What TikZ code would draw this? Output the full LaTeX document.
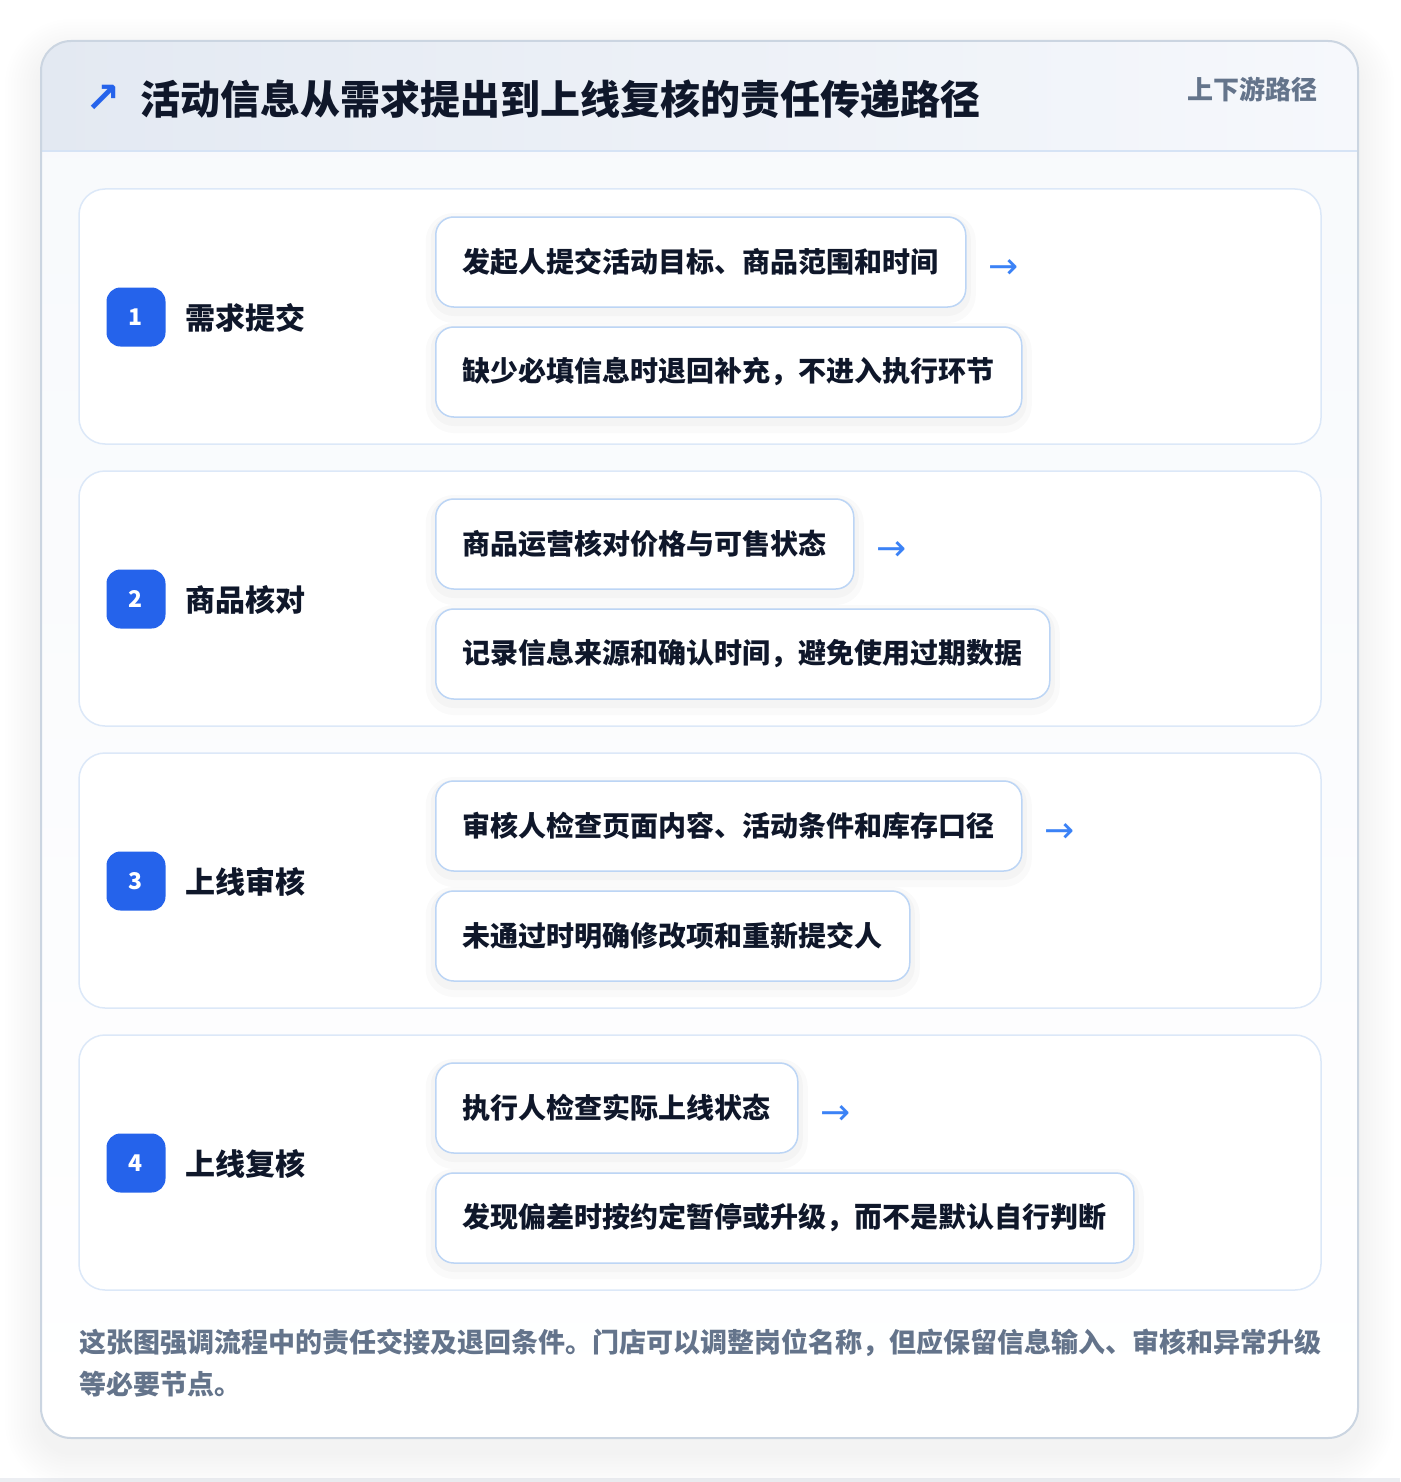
\documentclass[tikz,border=0pt]{standalone}
\usepackage{fontspec}
\setmainfont{Noto Sans CJK SC}
\newfontfamily\symbolfont{DejaVu Sans}
\usetikzlibrary{positioning}

\definecolor{inkdark}{HTML}{0F172A}
\definecolor{inkgrey}{HTML}{64748B}
\definecolor{badgeblue}{HTML}{2563EB}
\definecolor{arrowblue}{HTML}{3B82F6}
\definecolor{stepline}{HTML}{DCE8F8}
\definecolor{subline}{HTML}{BCD5F5}
\definecolor{cardline}{HTML}{CBD5E1}
\definecolor{cardtop}{HTML}{F7F9FC}
\definecolor{headleft}{HTML}{E3E9F2}
\definecolor{headright}{HTML}{F6F8FC}
\definecolor{headrule}{HTML}{D6E3F5}
\definecolor{pagefoot}{HTML}{ECEEF2}

\tikzset{
  stepcard/.style={draw=stepline, line width=1.5pt, fill=white, rounded corners=26pt,
    minimum width=1242pt, minimum height=255pt, inner sep=0pt},
  badge/.style={fill=badgeblue, rounded corners=14pt, minimum size=59pt, inner sep=0pt,
    text=white, font=\bfseries\fontsize{23}{23}\selectfont},
  steptitle/.style={anchor=west, inner sep=0pt, text=inkdark,
    font=\bfseries\fontsize{30}{30}\selectfont},
  substep/.style={anchor=west, draw=subline, line width=1.5pt, fill=white,
    rounded corners=18pt, minimum height=90pt, inner xsep=27pt, inner ysep=0pt,
    text=inkdark, font=\bfseries\fontsize{28}{28}\selectfont,
    preaction={draw=black, opacity=0.018, line width=20pt, transform canvas={yshift=-6pt}},
    preaction={draw=black, opacity=0.022, line width=10pt, transform canvas={yshift=-4pt}}},
  handoff/.style={anchor=west, inner sep=0pt, text=arrowblue,
    font=\symbolfont\fontsize{36}{36}\selectfont}
}

\begin{document}
\begin{tikzpicture}[x=1pt, y=-1pt]
  \useasboundingbox (0,0) rectangle (1400,1482);
  \fill[white] (0,0) rectangle (1400,1482);
  \fill[pagefoot] (0,1478) rectangle (1400,1482);

  % soft shadow under the card
  \foreach \k [evaluate=\k as \r using 30+3*\k] in {1,...,12}
    \fill[black, opacity=0.0045, rounded corners=\r pt]
      (41-3*\k,41-3*\k+14) rectangle (1358+3*\k,1438+3*\k+14);

  % card and header band
  \fill[top color=cardtop, bottom color=white, rounded corners=30pt] (41,41) rectangle (1358,1438);
  \begin{scope}
    \clip[rounded corners=30pt] (41,41) rectangle (1358,1438);
    \shade[left color=headleft, right color=headright] (41,41) rectangle (1358,151);
  \end{scope}
  \draw[headrule, line width=1.5pt] (41,151) -- (1358,151);
  \draw[cardline, line width=2pt, rounded corners=30pt] (41,41) rectangle (1358,1438);

  \node[anchor=west, inner sep=0pt, text=badgeblue, font=\symbolfont\bfseries\fontsize{42}{42}\selectfont] (icon) at (85,99) {↗};
  \node[anchor=west, inner sep=0pt, text=inkdark, font=\bfseries\fontsize{40}{40}\selectfont] (title) at (140,99) {活动信息从需求提出到上线复核的责任传递路径};
  \node[anchor=east, inner sep=0pt, text=inkgrey, font=\bfseries\fontsize{26}{26}\selectfont] (tag) at (1318,89) {上下游路径};

  % step 1
  \node[stepcard] (step1) at (700,316.5) {};
  \node[badge] (b1) at (136,317) {1};
  \node[steptitle] (t1) at (185,318) {需求提交};
  \node[substep] (s1a) at (435,262) {发起人提交活动目标、商品范围和时间};
  \node[substep] (s1b) at (435,372) {缺少必填信息时退回补充，不进入执行环节};
  \node[handoff, right=22pt of s1a, yshift=-7pt] (h1) {→};

  % step 2
  \node[stepcard] (step2) at (700,598.5) {};
  \node[badge] (b2) at (136,599) {2};
  \node[steptitle] (t2) at (185,600) {商品核对};
  \node[substep] (s2a) at (435,544) {商品运营核对价格与可售状态};
  \node[substep] (s2b) at (435,654) {记录信息来源和确认时间，避免使用过期数据};
  \node[handoff, right=22pt of s2a, yshift=-7pt] (h2) {→};

  % step 3
  \node[stepcard] (step3) at (700,880.5) {};
  \node[badge] (b3) at (136,881) {3};
  \node[steptitle] (t3) at (185,882) {上线审核};
  \node[substep] (s3a) at (435,826) {审核人检查页面内容、活动条件和库存口径};
  \node[substep] (s3b) at (435,936) {未通过时明确修改项和重新提交人};
  \node[handoff, right=22pt of s3a, yshift=-7pt] (h3) {→};

  % step 4
  \node[stepcard] (step4) at (700,1162.5) {};
  \node[badge] (b4) at (136,1163) {4};
  \node[steptitle] (t4) at (185,1164) {上线复核};
  \node[substep] (s4a) at (435,1108) {执行人检查实际上线状态};
  \node[substep] (s4b) at (435,1218) {发现偏差时按约定暂停或升级，而不是默认自行判断};
  \node[handoff, right=22pt of s4a, yshift=-7pt] (h4) {→};

  \node[anchor=north west, align=left, inner sep=0pt, text=inkgrey,
    font=\bfseries\fontsize{27}{42}\selectfont] (note) at (79,1329)
    {这张图强调流程中的责任交接及退回条件。门店可以调整岗位名称，但应保留信息输入、审核和异常升级\\等必要节点。};
\end{tikzpicture}
\end{document}
